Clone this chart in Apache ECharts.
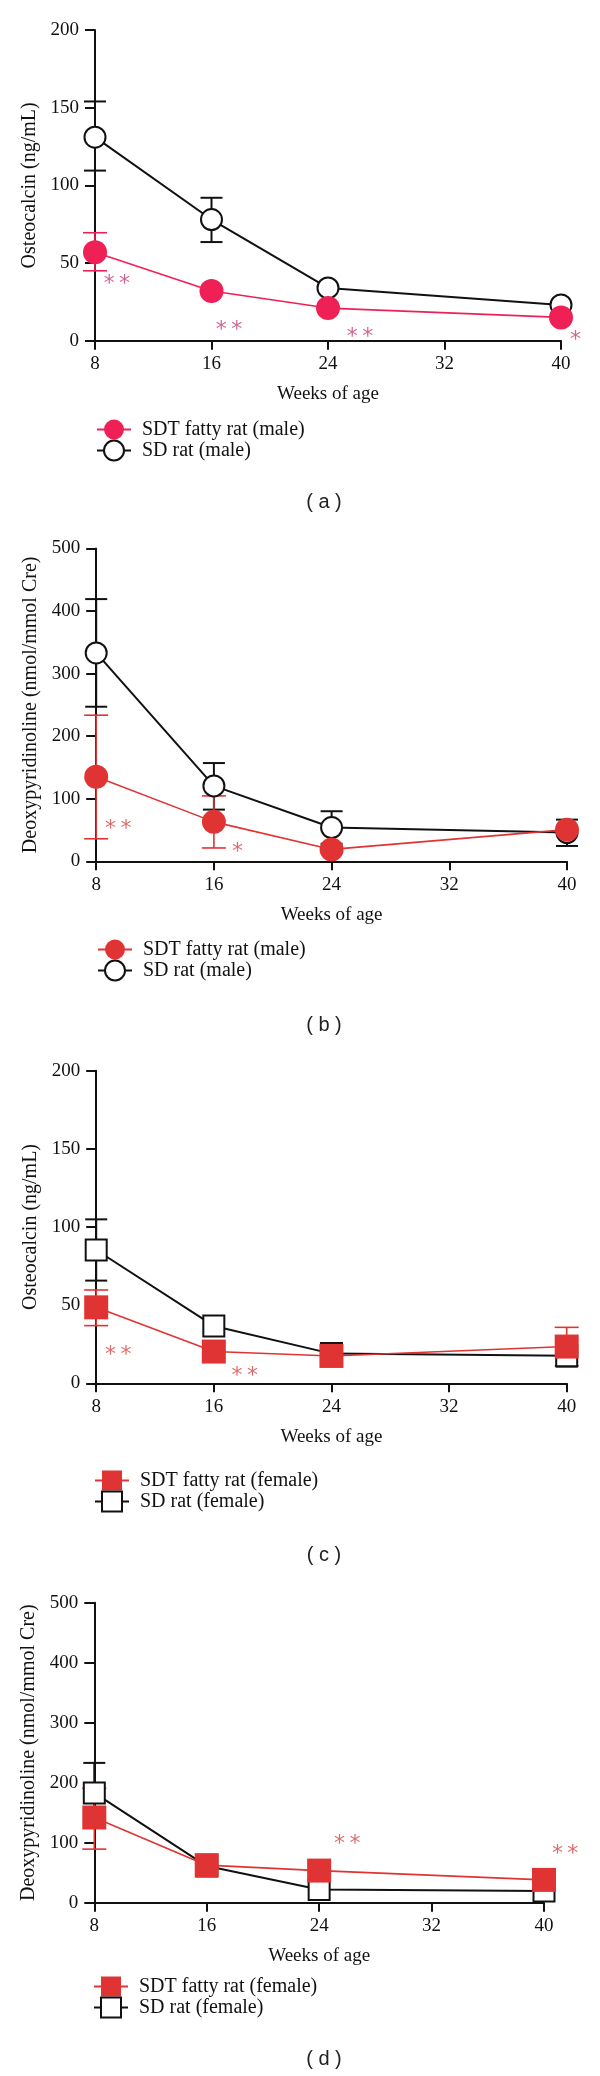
<!DOCTYPE html>
<html><head><meta charset="utf-8">
<script src="https://cdn.jsdelivr.net/npm/echarts@6/dist/echarts.min.js"></script>
<style>
html,body{margin:0;padding:0;background:#fff;}
.p{position:absolute;left:0;top:0;width:600px;height:2076px;}
</style>
</head><body>
<div id="pa" class="p"></div>
<div id="pb" class="p"></div>
<div id="pc" class="p"></div>
<div id="pd" class="p"></div>
<script>
// ---- data ----
const weeks = [8, 16, 24, 40];
const xTicks = [8, 16, 24, 32, 40];

// (a) Osteocalcin, male
const aSdtMean = [57, 32, 21, 15];
const aSdtLo = [45, null, null, null];
const aSdtHi = [69.5, null, null, null];
const aSdMean = [131, 78, 34, 23];
const aSdLo = [109.5, 63.5, null, null];
const aSdHi = [154, 92, null, null];
const aStarX = [9.5, 17.2, 26.2, 41.0];
const aStarY = [39, 9, 4.7, 3];
const aStarText = ['**', '**', '**', '*'];

// (b) Deoxypyridinoline, male
const bSdtMean = [135, 63, 19, 50.6];
const bSdtLo = [36, 21.3, null, null];
const bSdtHi = [233.5, 104.5, null, null];
const bSdMean = [333, 120.5, 54, 46];
const bSdLo = [247, 82.6, 28, 24.5];
const bSdHi = [419, 157, 80, 66.6];
const bStarX = [9.5, 17.6];
const bStarY = [57.6, 21.3];
const bStarText = ['**', '*'];

// (c) Osteocalcin, female
const cSdtMean = [48.6, 20.3, 17.5, 23.5];
const cSdtLo = [36.9, null, null, 11.2];
const cSdtHi = [59.7, null, null, 35.8];
const cSdMean = [85.3, 36.7, 19, 17.7];
const cSdLo = [65.7, null, null, 10.7];
const cSdHi = [104.9, null, null, 24.7];
const cStarX = [9.5, 18.1];
const cStarY = [20.3, 7];
const cStarText = ['**', '**'];

// (d) Deoxypyridinoline, female
const dSdtMean = [142, 62.6, 53.5, 38];
const dSdtLo = [89.3, null, null, null];
const dSdtHi = [190.6, null, null, null];
const dSdMean = [183, 61, 22, 19.4];
const dSdLo = [133, null, null, null];
const dSdHi = [233, null, null, null];
const dStarX = [26, 41.5];
const dStarY = [103.5, 88];
const dStarText = ['**', '**'];

// ---- helpers ----
const SERIF = 'Liberation Serif';
const INK = '#111';

function pairs(arr) { return weeks.map((w, i) => [w, arr[i]]); }
function errData(lo, hi) {
  const out = [];
  weeks.forEach((w, i) => { if (lo[i] != null && hi[i] != null) out.push([w, lo[i], hi[i]]); });
  return out;
}
function errSeries(data, color, lw, cap) {
  return {
    type: 'custom', data: data, encode: { x: 0, y: [1, 2] }, silent: true, z: 2,
    renderItem: function (p, api) {
      const x = api.value(0);
      const a = api.coord([x, api.value(1)]);
      const b = api.coord([x, api.value(2)]);
      const h = cap / 2;
      const st = { stroke: color, lineWidth: lw };
      return { type: 'group', children: [
        { type: 'line', shape: { x1: a[0], y1: a[1], x2: b[0], y2: b[1] }, style: st },
        { type: 'line', shape: { x1: a[0] - h, y1: a[1], x2: a[0] + h, y2: a[1] }, style: st },
        { type: 'line', shape: { x1: b[0] - h, y1: b[1], x2: b[0] + h, y2: b[1] }, style: st }
      ] };
    }
  };
}

function build(id, o) {
  const chart = echarts.init(document.getElementById(id), null, { renderer: 'canvas' });
  const starData = o.starX.map((x, i) => [x, o.starY[i]]);
  chart.setOption({
    animation: false,
    backgroundColor: 'transparent',
    grid: o.grid,
    xAxis: {
      type: 'value', min: 8, max: 40, interval: 8,
      axisLine: { show: true, onZero: false, lineStyle: { color: INK, width: 2 } },
      axisTick: { show: true, length: 9, lineStyle: { color: INK, width: 2 } },
      axisLabel: { fontFamily: SERIF, fontSize: 19, color: INK, margin: 14,
        formatter: v => xTicks.indexOf(v) >= 0 ? String(v) : '' },
      splitLine: { show: false },
      name: 'Weeks of age', nameLocation: 'middle', nameGap: 44,
      nameTextStyle: { fontFamily: SERIF, fontSize: 19, color: INK }
    },
    yAxis: {
      type: 'value', min: 0, max: o.yMax, interval: o.yInterval,
      axisLine: { show: true, onZero: false, lineStyle: { color: INK, width: 2 } },
      axisTick: { show: true, length: 10, lineStyle: { color: INK, width: 2 } },
      axisLabel: { fontFamily: SERIF, fontSize: 19, color: INK, margin: 16 },
      splitLine: { show: false },
      name: o.yName, nameLocation: 'middle', nameGap: 54,
      nameTextStyle: { fontFamily: SERIF, fontSize: 20, color: INK }
    },
    legend: {
      orient: 'vertical', left: o.legendLeft, top: o.legendTop, padding: 0,
      itemWidth: 34, itemHeight: 25, itemGap: 0,
      data: [o.sdtName, o.sdName],
      textStyle: { fontFamily: SERIF, fontSize: 20, color: INK, padding: [0, 0, 0, 6] },
      selectedMode: false
    },
    graphic: [{
      type: 'text', x: 324, y: o.labelY,
      style: { text: o.label, font: '20px "Liberation Sans"', fill: '#222',
        textAlign: 'center', textVerticalAlign: 'middle' }
    }],
    series: [
      errSeries(errData(o.sdLo, o.sdHi), INK, 2, 22),
      {
        type: 'line', name: o.sdName, data: pairs(o.sdMean), z: 3,
        symbol: o.symbol, symbolSize: o.sdSize,
        itemStyle: { color: '#fff', borderColor: INK, borderWidth: 2 },
        lineStyle: { color: INK, width: 2 }
      },
      errSeries(errData(o.sdtLo, o.sdtHi), o.color, 1.6, 24),
      {
        type: 'line', name: o.sdtName, data: pairs(o.sdtMean), z: 5,
        symbol: o.symbol, symbolSize: o.sdtSize,
        itemStyle: { color: o.color },
        lineStyle: { color: o.color, width: 1.6 }
      },
      {
        type: 'scatter', data: starData, symbolSize: 2, clip: false, z: 6, silent: true,
        itemStyle: { color: 'rgba(0,0,0,0)' },
        label: { show: true, position: 'inside',
          formatter: p => o.starText[p.dataIndex].split('').join('\u2009'),
          fontFamily: 'DejaVu Sans', fontSize: 22, color: o.starColor, offset: [0, 4] }
      }
    ]
  });
}

build('pa', {
  grid: { left: 95, top: 30, width: 466, height: 310.7 },
  yMax: 200, yInterval: 50, yName: 'Osteocalcin (ng/mL)',
  sdtName: 'SDT fatty rat (male)', sdName: 'SD rat (male)',
  symbol: 'circle', sdtSize: 24, sdSize: 21,
  color: '#ee2055', starColor: '#c43d78',
  sdtMean: aSdtMean, sdtLo: aSdtLo, sdtHi: aSdtHi,
  sdMean: aSdMean, sdLo: aSdLo, sdHi: aSdHi,
  starX: aStarX, starY: aStarY, starText: aStarText,
  legendLeft: 96, legendTop: 419.5, label: '( a )', labelY: 502
});
build('pb', {
  grid: { left: 96.2, top: 548.4, width: 470.8, height: 312.9 },
  yMax: 500, yInterval: 100, yName: 'Deoxypyridinoline (nmol/mmol Cre)',
  sdtName: 'SDT fatty rat (male)', sdName: 'SD rat (male)',
  symbol: 'circle', sdtSize: 24, sdSize: 21,
  color: '#e03333', starColor: '#d04a4a',
  sdtMean: bSdtMean, sdtLo: bSdtLo, sdtHi: bSdtHi,
  sdMean: bSdMean, sdLo: bSdLo, sdHi: bSdHi,
  starX: bStarX, starY: bStarY, starText: bStarText,
  legendLeft: 97, legendTop: 939.5, label: '( b )', labelY: 1025
});
build('pc', {
  grid: { left: 96.2, top: 1070.7, width: 470.5, height: 312.6 },
  yMax: 200, yInterval: 50, yName: 'Osteocalcin (ng/mL)',
  sdtName: 'SDT fatty rat (female)', sdName: 'SD rat (female)',
  symbol: 'rect', sdtSize: 24, sdSize: 21,
  color: '#e03333', starColor: '#d04a4a',
  sdtMean: cSdtMean, sdtLo: cSdtLo, sdtHi: cSdtHi,
  sdMean: cSdMean, sdLo: cSdLo, sdHi: cSdHi,
  starX: cStarX, starY: cStarY, starText: cStarText,
  legendLeft: 94, legendTop: 1470.5, label: '( c )', labelY: 1555
});
build('pd', {
  grid: { left: 94.3, top: 1602.7, width: 449.7, height: 300 },
  yMax: 500, yInterval: 100, yName: 'Deoxypyridinoline (nmol/mmol Cre)',
  sdtName: 'SDT fatty rat (female)', sdName: 'SD rat (female)',
  symbol: 'rect', sdtSize: 24, sdSize: 21,
  color: '#e03333', starColor: '#d04a4a',
  sdtMean: dSdtMean, sdtLo: dSdtLo, sdtHi: dSdtHi,
  sdMean: dSdMean, sdLo: dSdLo, sdHi: dSdHi,
  starX: dStarX, starY: dStarY, starText: dStarText,
  legendLeft: 93, legendTop: 1976.5, label: '( d )', labelY: 2059
});
</script>
</body></html>
